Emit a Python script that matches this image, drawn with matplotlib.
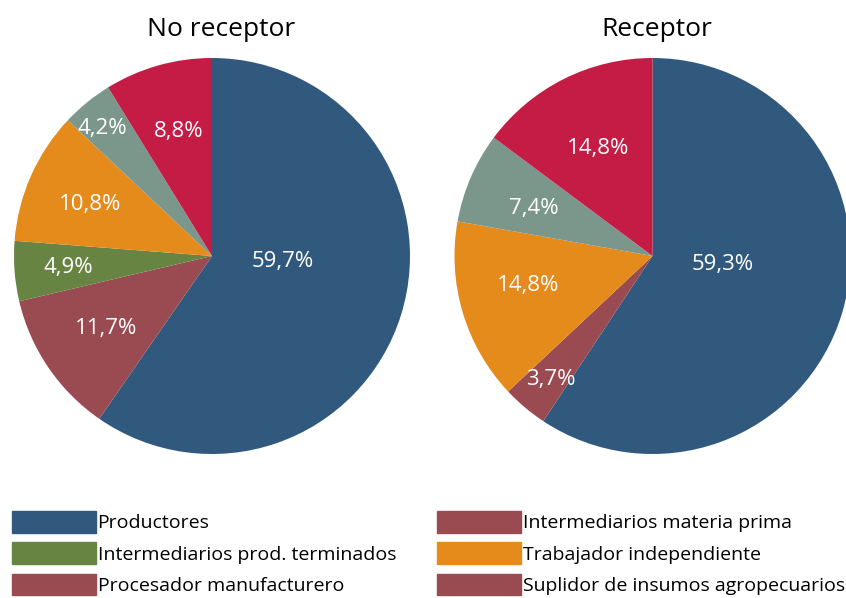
import numpy as np
import matplotlib
matplotlib.use("Agg")
import matplotlib.pyplot as plt
from matplotlib.patches import Patch

plt.rcParams['font.family'] = ['Open Sans', 'DejaVu Sans']

# data
titles = ['No receptor', 'Receptor']
no_receptor_vals = [59.7, 11.7, 4.9, 10.8, 4.2, 8.8]
receptor_vals = [59.3, 3.7, 14.8, 7.4, 14.8]

legend_left = ['Productores', 'Intermediarios prod. terminados', 'Procesador manufacturero']
legend_right = ['Intermediarios materia prima', 'Trabajador independiente',
                'Suplidor de insumos agropecuarios']

# colours
BLUE = '#31597e'
MAROON = '#9a4a51'
GREEN = '#688443'
ORANGE = '#e58b1b'
GREY = '#7b978c'
CRIMSON = '#c41c45'

no_receptor_cols = [BLUE, MAROON, GREEN, ORANGE, GREY, CRIMSON]
receptor_cols = [BLUE, MAROON, ORANGE, GREY, CRIMSON]
legend_left_cols = [BLUE, GREEN, MAROON]
legend_right_cols = [MAROON, ORANGE, MAROON]

# label placement (radius fraction, angle shift in degrees)
no_receptor_lr = [0.36, 0.65, 0.73, 0.67, 0.85, 0.65]
no_receptor_ls = [12.7, 0, 0, 1, 1.5, -0.6]
receptor_lr = [0.357, 0.81, 0.645, 0.645, 0.61]
receptor_ls = [10.2, 0.6, -3, 1.4, 0.2]

W, H = 846, 598
fig = plt.figure(figsize=(W / 100, H / 100), dpi=100)


def px_axes(cx, cy, r):
    return fig.add_axes([(cx - r) / W, 1 - (cy + r) / H, 2 * r / W, 2 * r / H])


def draw_pie(ax, vals, cols, lr, ls):
    wedges, _ = ax.pie(vals, colors=cols, startangle=90, counterclock=False,
                       radius=1, wedgeprops=dict(linewidth=0))
    for w, v, r, s in zip(wedges, vals, lr, ls):
        mid = np.deg2rad((w.theta1 + w.theta2) / 2 + s)
        ax.text(r * np.cos(mid), r * np.sin(mid),
                ('%.1f%%' % v).replace('.', ','),
                ha='center', va='center', color='white', fontsize=16)
    ax.set_xlim(-1, 1)
    ax.set_ylim(-1, 1)
    ax.set_aspect('equal')
    ax.axis('off')


ax1 = px_axes(212, 256, 198)
draw_pie(ax1, no_receptor_vals, no_receptor_cols, no_receptor_lr, no_receptor_ls)
ax2 = px_axes(652.5, 256, 198)
draw_pie(ax2, receptor_vals, receptor_cols, receptor_lr, receptor_ls)

fig.text(221 / W, 1 - 29 / H, titles[0], ha='center', va='center', fontsize=19)
fig.text(657 / W, 1 - 29 / H, titles[1], ha='center', va='center', fontsize=19)

legend_kw = dict(loc='upper left', frameon=False, fontsize=14, borderpad=0,
                 handlelength=4.3, handleheight=1.33, handletextpad=0.1,
                 labelspacing=0.5, borderaxespad=0)
leg1 = fig.legend([Patch(color=c) for c in legend_left_cols], legend_left,
                  bbox_to_anchor=(12 / W, 1 - 511 / H), **legend_kw)
leg2 = fig.legend([Patch(color=c) for c in legend_right_cols], legend_right,
                  bbox_to_anchor=(437 / W, 1 - 511 / H), **legend_kw)

fig.savefig('out.png', dpi=100)
